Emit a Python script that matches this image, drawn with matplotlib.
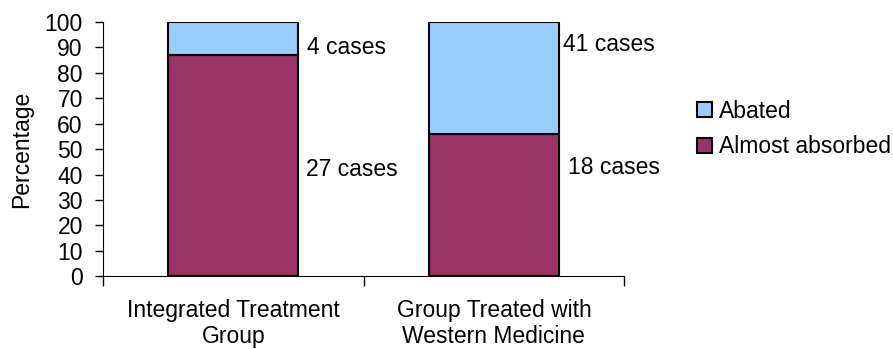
import matplotlib.pyplot as plt

plt.rcParams['font.family'] = ['Liberation Sans', 'DejaVu Sans']

groups = ['Integrated Treatment\nGroup', 'Group Treated with\nWestern Medicine']
almost_absorbed = [87, 56]
abated = [13, 44]
absorbed_labels = ['27 cases', '18 cases']
abated_labels = ['4 cases', '41 cases']

FS = 16.5

fig = plt.figure(figsize=(8.93, 3.49), dpi=100)
ax = fig.add_axes([0.1153, 0.2083, 0.5837, 0.7287])

x = range(len(groups))
ax.bar(x, almost_absorbed, width=0.5, color='#993366', edgecolor='black',
       linewidth=1.5, label='Almost absorbed')
ax.bar(x, abated, width=0.5, bottom=almost_absorbed, color='#99CCFF',
       edgecolor='black', linewidth=1.5, label='Abated')

# case counts beside each segment
abated_pos = [(0.284, 89.8), (1.267, 91.3)]
absorbed_pos = [(0.28, 41.8), (1.286, 42.6)]
for i in x:
    ax.text(*abated_pos[i], abated_labels[i], fontsize=FS, va='center', ha='left')
    ax.text(*absorbed_pos[i], absorbed_labels[i], fontsize=FS, va='center', ha='left')

ax.set_xlim(-0.5, 1.5)
ax.set_ylim(0, 100)
ax.set_yticks(range(0, 101, 10))
ax.set_ylabel('Percentage', fontsize=FS)
ax.yaxis.set_label_coords(-0.134, 0.5)
ax.tick_params(axis='y', labelsize=FS, length=5.5, width=1, pad=9)

ax.set_xticks(list(x))
ax.set_xticklabels(groups, fontsize=FS, linespacing=1.22)
ax.tick_params(axis='x', which='major', length=0, pad=16)
ax.set_xticks([-0.5, 0.5, 1.5], minor=True)
ax.tick_params(axis='x', which='minor', length=7, width=1)

ax.spines['top'].set_visible(False)
ax.spines['right'].set_visible(False)

handles, labels = ax.get_legend_handles_labels()
fig.legend(handles[::-1], labels[::-1], loc='center left',
           bbox_to_anchor=(0.7805, 0.63), frameon=False, fontsize=FS,
           handlelength=0.65, handleheight=0.65, handletextpad=0.3,
           labelspacing=0.55, borderpad=0, borderaxespad=0)

fig.savefig('out.png', dpi=100)
